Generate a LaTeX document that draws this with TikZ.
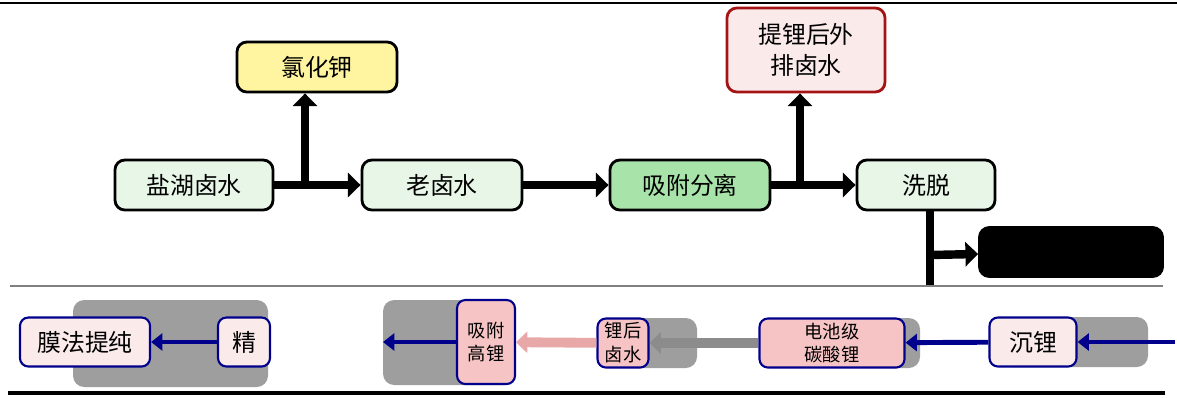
\documentclass[tikz,border=0pt]{standalone}
\usepackage{fontspec}
\setmainfont{Noto Sans CJK SC}
\usepackage{xcolor}
\usepackage{tikz}
\usetikzlibrary{arrows.meta,calc}
\definecolor{brinegreen}{RGB}{232,246,232}
\definecolor{sorbgreen}{RGB}{168,228,170}
\definecolor{kclyellow}{RGB}{255,245,160}
\definecolor{wastepink}{RGB}{250,234,234}
\definecolor{wastered}{RGB}{165,20,20}
\definecolor{rosepink}{RGB}{246,196,196}
\definecolor{linenavy}{RGB}{0,0,140}
\definecolor{shadegrey}{RGB}{158,158,158}
\definecolor{arrowgrey}{RGB}{140,140,140}
\definecolor{arrowpink}{RGB}{232,168,168}

\begin{document}
\begin{tikzpicture}[x=0.025cm, y=-0.025cm,
    topbox/.style={draw=black, line width=2pt, rounded corners=7pt, minimum height=1.25cm,
      align=center, inner sep=2pt, font=\fontsize{17}{22}\selectfont},
    botbox/.style={draw=linenavy, line width=1.5pt, rounded corners=6pt, minimum height=1.225cm,
      align=center, inner sep=1pt, font=\fontsize{17}{20}\selectfont},
    twoline/.style={font=\fontsize{13}{17}\selectfont},
    flow/.style={line width=6pt, -{Triangle[length=9pt,width=17pt]}},
    flowb/.style={line width=3.5pt, linenavy, -{Triangle[length=8pt,width=12pt]}},
    flowg/.style={line width=7pt, arrowgrey, -{Triangle[length=8pt,width=15pt]}},
    flowp/.style={line width=7pt, arrowpink, -{Triangle[length=8pt,width=15pt]}}]
  \useasboundingbox (0,0) rectangle (1177,397);

  % rules
  \draw[line width=2pt] (0,3) -- (1177,3);
  \draw[line width=2.5pt] (8,393) -- (1165,393);
  \draw[gray, line width=0.8pt] (10,286) -- (1163,286);

  % Top row: brine route
  \node[topbox, fill=brinegreen, minimum width=3.95cm] (brine) at (194,185) {盐湖卤水};
  \node[topbox, fill=brinegreen, minimum width=4cm] (oldbrine) at (442,185) {老卤水};
  \node[topbox, fill=sorbgreen, minimum width=4cm] (adsorb) at (690,185) {吸附分离};
  \node[topbox, fill=brinegreen, minimum width=3.45cm] (elute) at (926,185) {洗脱};
  % side products
  \node[topbox, fill=kclyellow, minimum width=4cm] (kcl) at (317,67) {氯化钾};
  \node[topbox, fill=wastepink, draw=wastered, minimum width=3.95cm, minimum height=2.1cm] (waste) at (806,50) {提锂后外\\排卤水};
  \node[topbox, fill=black, minimum width=4.575cm, minimum height=1.225cm] (eluate) at (1071,252) {};

  \coordinate (j1) at (305,185);
  \coordinate (j2) at (800,185);
  \coordinate (j3) at (930,255);
  \coordinate (d1) at (930,285);
  \draw[flow] (brine) -- (oldbrine);
  \draw[flow] (j1) -- (j1 |- kcl.south);
  \draw[flow] (oldbrine) -- (adsorb);
  \draw[flow] (adsorb) -- (elute);
  \draw[flow] (j2) -- (j2 |- waste.south);
  \draw[line width=6pt] (d1 |- elute.south) -- (d1);
  \draw[flow] (j3) -- (eluate);

  % Bottom row: grey backings
  \fill[shadegrey, rounded corners=8pt] (73,300) rectangle (268,387);
  \fill[shadegrey, rounded corners=8pt] (383,300) rectangle (515,385);
  \fill[shadegrey, rounded corners=8pt] (598,318) rectangle (697,368);
  \fill[shadegrey, rounded corners=8pt] (760,318) rectangle (920,368);
  \fill[shadegrey, rounded corners=8pt] (1000,317) rectangle (1148,367);

  % Bottom row: product route
  \node[botbox, fill=wastepink, minimum width=3.25cm] (membrane) at (85,342) {膜法提纯};
  \node[botbox, fill=wastepink, minimum width=1.3cm] (refine) at (244,342) {精};
  \node[botbox, twoline, fill=rosepink, minimum width=1.45cm, minimum height=2.1cm] (highli) at (486,342) {吸附\\高锂};
  \node[botbox, twoline, fill=rosepink, minimum width=1.275cm] (afterli) at (623,343) {锂后\\卤水};
  \node[botbox, twoline, fill=rosepink, minimum width=3.625cm] (battery) at (832,343) {电池级\\碳酸锂};
  \node[botbox, fill=wastepink, minimum width=2.175cm] (sink) at (1033,342) {沉锂};

  \coordinate (rin) at (1175,342);
  \coordinate (lout) at (383,342);
  \draw[flowb] (rin) -- (sink);
  \draw[flowb] (sink) -- (battery);
  \draw[flowg] (battery) -- (afterli);
  \draw[flowp] (afterli) -- (highli);
  \draw[flowb] (highli) -- (lout);
  \draw[flowb] (refine) -- (membrane);
\end{tikzpicture}
\end{document}
